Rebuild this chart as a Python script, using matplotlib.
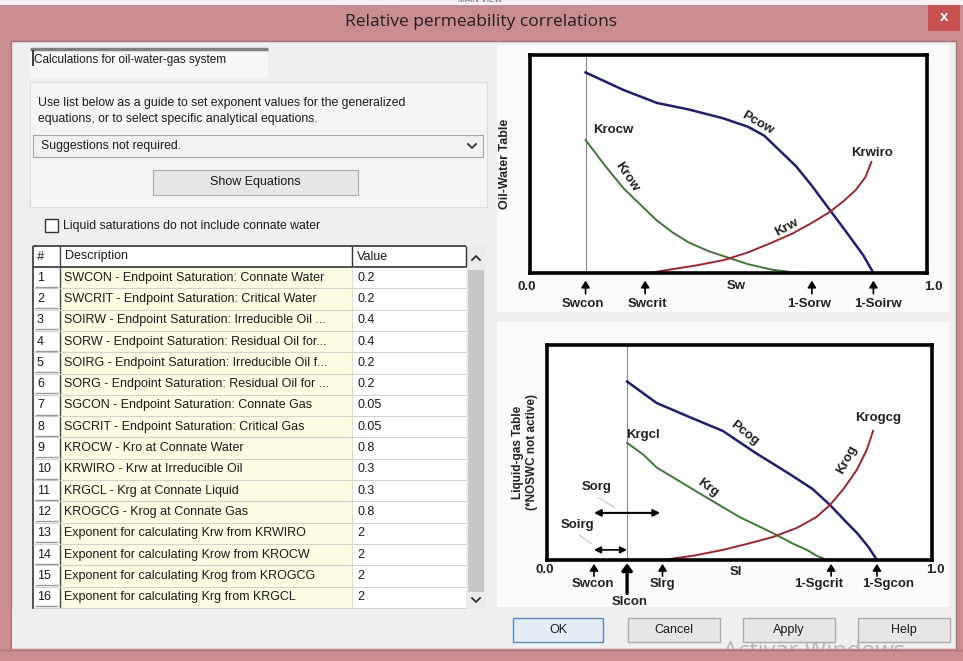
import matplotlib
matplotlib.use("Agg")
import matplotlib.pyplot as plt
from matplotlib.patches import Rectangle

plt.rcParams['font.family'] = ['Liberation Sans', 'DejaVu Sans']

# ---------------- data ----------------
title = "Relative permeability correlations"
row_ids = list(range(1, 17))
row_desc = [
    "SWCON - Endpoint Saturation: Connate Water",
    "SWCRIT - Endpoint Saturation: Critical Water",
    "SOIRW - Endpoint Saturation: Irreducible Oil ...",
    "SORW - Endpoint Saturation: Residual Oil for...",
    "SOIRG - Endpoint Saturation: Irreducible Oil f...",
    "SORG - Endpoint Saturation: Residual Oil for ...",
    "SGCON - Endpoint Saturation: Connate Gas",
    "SGCRIT - Endpoint Saturation: Critical Gas",
    "KROCW - Kro at Connate Water",
    "KRWIRO - Krw at Irreducible Oil",
    "KRGCL - Krg at Connate Liquid",
    "KROGCG - Krog at Connate Gas",
    "Exponent for calculating Krw from KRWIRO",
    "Exponent for calculating Krow from KROCW",
    "Exponent for calculating Krog from KROGCG",
    "Exponent for calculating Krg from KRGCL",
]
row_vals = ["0.2", "0.2", "0.4", "0.4", "0.2", "0.2", "0.05", "0.05",
            "0.8", "0.3", "0.3", "0.8", "2", "2", "2", "2"]

# Oil-water schematic
ow_swcon = 0.14
pcow_x = [0.14, 0.235, 0.32, 0.40, 0.486, 0.55, 0.59, 0.63, 0.67, 0.71, 0.755, 0.80, 0.84, 0.865]
pcow_y = [0.92, 0.84, 0.78, 0.75, 0.71, 0.67, 0.63, 0.56, 0.49, 0.40, 0.29, 0.18, 0.08, 0.0]
krow_x = [0.14, 0.19, 0.235, 0.28, 0.32, 0.36, 0.40, 0.45, 0.50, 0.55, 0.61, 0.66, 0.70]
krow_y = [0.61, 0.49, 0.39, 0.31, 0.24, 0.185, 0.14, 0.10, 0.07, 0.04, 0.015, 0.004, 0.0]
krw_x = [0.30, 0.35, 0.42, 0.49, 0.55, 0.61, 0.66, 0.71, 0.755, 0.79, 0.82, 0.845, 0.86]
krw_y = [0.0, 0.015, 0.035, 0.06, 0.095, 0.14, 0.18, 0.23, 0.28, 0.33, 0.38, 0.44, 0.51]
ow_marks = [0.14, 0.29, 0.71, 0.865]
ow_mark_labels = ["Swcon", "Swcrit", "1-Sorw", "1-Soirw"]

# Liquid-gas schematic
lg_slcon = 0.208
pcog_x = [0.208, 0.285, 0.37, 0.457, 0.54, 0.63, 0.69, 0.735, 0.77, 0.805, 0.835, 0.857]
pcog_y = [0.83, 0.73, 0.665, 0.60, 0.50, 0.40, 0.33, 0.256, 0.19, 0.126, 0.06, 0.0]
krg_x = [0.208, 0.25, 0.285, 0.35, 0.415, 0.50, 0.587, 0.64, 0.675, 0.70, 0.727]
krg_y = [0.545, 0.49, 0.43, 0.36, 0.29, 0.20, 0.125, 0.075, 0.047, 0.02, 0.0]
krog_x = [0.30, 0.38, 0.457, 0.52, 0.587, 0.65, 0.70, 0.735, 0.77, 0.805, 0.83, 0.847]
krog_y = [0.0, 0.02, 0.047, 0.075, 0.107, 0.15, 0.20, 0.256, 0.33, 0.42, 0.51, 0.60]
lg_marks = [0.122, 0.30, 0.738, 0.857]
lg_mark_labels = ["Swcon", "Slrg", "1-Sgcrit", "1-Sgcon"]
buttons = ["OK", "Cancel", "Apply", "Help"]

# label anchor positions (layout)
ow_label_x = [0.134, 0.295, 0.703, 0.877]
lg_label_x = [0.12, 0.30, 0.706, 0.885]

# ---------------- figure ----------------
W, H = 963, 661
fig = plt.figure(figsize=(W / 100, H / 100), dpi=100)
bg = fig.add_axes([0, 0, 1, 1])
bg.set_xlim(0, W)
bg.set_ylim(H, 0)
bg.axis('off')

PINK = "#c98d8f"
CLIENT = "#efefef"


def rect(x0, y0, x1, y1, fc="none", ec="none", lw=0.8, z=1):
    bg.add_patch(Rectangle((x0, y0), x1 - x0, y1 - y0, facecolor=fc,
                           edgecolor=ec, linewidth=lw, zorder=z))


def txt(x, y, s, size=9, ha='left', va='center', color="#1a1a1a", z=5, **kw):
    bg.text(x, y, s, fontsize=size, ha=ha, va=va, color=color, zorder=z, **kw)


def hline(x0, x1, y, color, lw=0.8, z=3):
    bg.plot([x0, x1], [y, y], color=color, lw=lw, zorder=z, solid_capstyle='butt')


def vline(x, y0, y1, color, lw=0.8, z=3):
    bg.plot([x, x], [y0, y1], color=color, lw=lw, zorder=z, solid_capstyle='butt')


# window frame
rect(0, 0, W, H, fc=PINK, z=0)
rect(0, 0, W, 5, fc="#f4f4f4", z=0.5)
txt(480, 1, "MAIN VIEW", size=6, ha='center', va='center', color="#666666", z=0.6)
rect(11, 41, 956, 649, fc=CLIENT, ec="#a87072", lw=1.0, z=1)
txt(481, 22, title, size=12.5, ha='center', color="#202020", family=['Open Sans', 'DejaVu Sans'])
rect(928, 5, 960, 31, fc="#c8514f", z=1)
txt(944, 17, "x", size=11, ha='center', color="white", weight='bold')

# top text box
rect(30, 47, 268, 78, fc="#f7f7f7", z=2)
hline(30, 268, 48.5, "#808080", lw=2.5)
vline(32.5, 50, 66, "#202020", lw=1.2)
txt(34, 60, "Calculations for oil-water-gas system", size=8.5)

# group box
rect(30, 82, 487, 207, fc="#f5f5f5", ec="#dddddd", z=2)
txt(38, 103, "Use list below as a guide to set exponent values for the generalized", size=8.8)
txt(38, 119, "equations, or to select specific analytical equations.", size=8.8)
rect(33, 135, 483, 157, fc="#f0f0f0", ec="#a8a8a8", z=3)
txt(41, 146, "Suggestions not required.", size=8.8)
bg.plot([468, 472, 476], [144, 148, 144], color="#333333", lw=1.3, zorder=5)
rect(153, 170, 358, 195, fc="#e6e6e6", ec="#acacac", z=3)
txt(255.5, 182.5, "Show Equations", size=9, ha='center')

# checkbox
rect(45, 219, 58, 232, fc="white", ec="#333333", lw=1.0, z=3)
txt(63, 226, "Liquid saturations do not include connate water", size=8.8)

# table
TX0, TX1, TX2, TX3, TX4 = 33, 60, 352, 466, 486
HY0, HY1 = 246, 267
RH = 21.3
rect(TX0, HY0, TX4, 610, fc="white", z=2)
rect(TX1, HY1, TX2, 610, fc="#fcfce3", z=2.1)
rect(TX3, HY0, TX4, 610, fc="#ebebeb", z=2.2)
rect(468, 270, 484, 592, fc="#c6c6c6", z=2.3)
bg.plot([472, 476, 480], [260, 256, 260], color="#333333", lw=1.3, zorder=5)
bg.plot([472, 476, 480], [598, 602, 598], color="#333333", lw=1.3, zorder=5)
hline(TX0, TX3, HY0, "#333333", lw=1.2)
hline(TX0, TX3, HY1, "#333333", lw=1.2)
vline(TX0, HY0, 610, "#333333", lw=1.2)
vline(TX1, HY0, 610, "#444444", lw=1.0)
vline(TX2, HY0, HY1, "#333333", lw=1.0)
vline(TX3, HY0, HY1, "#333333", lw=1.0)
vline(TX2, HY1, 610, "#e0e0c8", lw=0.8)
txt(40, 256.5, "#", size=9, ha='center', style='italic')
txt(65, 256.5, "Description", size=9)
txt(357, 256.5, "Value", size=9)
for i, (rid, d, v) in enumerate(zip(row_ids, row_desc, row_vals)):
    y0 = HY1 + i * RH
    yc = y0 + RH / 2
    hline(TX0, TX3, y0 + RH, "#d2d2d2", lw=0.8)
    hline(TX0 + 2, TX1 - 2, y0 + RH - 1.5, "#9a9a9a", lw=1.0)
    txt(37, yc, str(rid), size=9)
    txt(64, yc, d, size=9)
    txt(357, yc, v, size=9)
# cover below table
rect(12, 609, 490, 648, fc=CLIENT, z=4)

# right white panels
rect(497, 45, 949, 312, fc="#fbfbfb", z=2)
rect(497, 322, 949, 607, fc="#fbfbfb", z=2)

# buttons
bx = [(513, 603), (628, 720), (743, 835), (858, 950)]
for (x0, x1), lab in zip(bx, buttons):
    ec = "#5a8ac4" if lab == "OK" else "#acacac"
    fc = "#e5eef7" if lab == "OK" else "#e6e6e6"
    rect(x0, 618, x1, 642, fc=fc, ec=ec, lw=1.0, z=3)
    txt((x0 + x1) / 2, 630, lab, size=9, ha='center')

# watermark + bottom border
txt(723, 640, "Activar Windows", size=17, va='top', color="#b8b8b8", z=2.5,
    family=['Open Sans', 'DejaVu Sans'])
rect(0, 649, W, H, fc=PINK, z=6)
hline(0, W, 649.5, "#b07375", lw=1.0, z=6.5)

# ---------------- chart helpers ----------------
NAVY = "#1e1e78"
GREEN = "#3a7a32"
RED = "#a82228"
LBL = dict(fontsize=9.5, color="#222222", weight='bold')


def make_ax(x0, y0, x1, y1):
    ax = fig.add_axes([x0 / W, 1 - y1 / H, (x1 - x0) / W, (y1 - y0) / H])
    ax.set_xlim(0, 1)
    ax.set_ylim(0, 1)
    ax.set_xticks([])
    ax.set_yticks([])
    ax.set_facecolor("white")
    for s in ax.spines.values():
        s.set_linewidth(2.6)
        s.set_color("black")
    return ax


def up_arrow(ax, x, y0, y1, lw=1.2, hw=0.25):
    ax.annotate("", xy=(x, y1), xytext=(x, y0), xycoords='data',
                annotation_clip=False,
                arrowprops=dict(arrowstyle="-|>,head_width=%g,head_length=0.4" % hw,
                                color="black", lw=lw, shrinkA=0, shrinkB=0))


# ---- top chart: oil-water ----
ax1 = make_ax(530, 55, 927, 273)
ax1.axvline(ow_swcon, color="#888888", lw=0.8)
ax1.plot(pcow_x, pcow_y, color=NAVY, lw=1.8)
ax1.plot(krow_x, krow_y, color=GREEN, lw=1.4)
ax1.plot(krw_x, krw_y, color=RED, lw=1.4)
ax1.text(0.572, 0.69, "Pcow", rotation=-30, ha='center', va='center', **LBL)
ax1.text(0.244, 0.44, "Krow", rotation=-56, ha='center', va='center', **LBL)
ax1.text(0.647, 0.21, "Krw", rotation=28, ha='center', va='center', **LBL)
ax1.text(0.21, 0.656, "Krocw", ha='center', va='center', **LBL)
ax1.text(0.861, 0.55, "Krwiro", ha='center', va='center', **LBL)
ax1.text(-0.008, -0.064, "0.0", ha='center', va='center', clip_on=False, **LBL)
ax1.text(1.015, -0.064, "1.0", ha='center', va='center', clip_on=False, **LBL)
ax1.text(0.52, -0.058, "Sw", ha='center', va='center', clip_on=False, **LBL)
for xm, xl, lab in zip(ow_marks, ow_label_x, ow_mark_labels):
    up_arrow(ax1, xm, -0.095, -0.035)
    ax1.text(xl, -0.14, lab, ha='center', va='center', clip_on=False, **LBL)
ax1.text(-0.063, 0.5, "Oil-Water Table", rotation=90, ha='center', va='center',
         transform=ax1.transAxes, fontsize=9, color="#222222", weight='bold')

# ---- bottom chart: liquid-gas ----
ax2 = make_ax(547, 345, 932, 560)
ax2.axvline(lg_slcon, color="#888888", lw=0.8)
ax2.plot(pcog_x, pcog_y, color=NAVY, lw=1.8)
ax2.plot(krg_x, krg_y, color=GREEN, lw=1.4)
ax2.plot(krog_x, krog_y, color=RED, lw=1.4)
ax2.text(0.514, 0.59, "Pcog", rotation=-38, ha='center', va='center', **LBL)
ax2.text(0.25, 0.58, "Krgcl", ha='center', va='center', **LBL)
ax2.text(0.418, 0.335, "Krg", rotation=-36, ha='center', va='center', **LBL)
ax2.text(0.86, 0.66, "Krogcg", ha='center', va='center', **LBL)
ax2.text(0.779, 0.465, "Krog", rotation=62, ha='center', va='center', **LBL)
ax2.text(0.13, 0.34, "Sorg", ha='center', va='center', **LBL)
ax2.text(0.08, 0.163, "Soirg", ha='center', va='center', **LBL)
ax2.plot([0.135, 0.175], [0.29, 0.245], color="#bbbbbb", lw=0.7)
ax2.plot([0.085, 0.115], [0.115, 0.075], color="#bbbbbb", lw=0.7)
ax2.annotate("", xy=(0.294, 0.219), xytext=(0.122, 0.219),
             arrowprops=dict(arrowstyle="<|-|>,head_width=0.2,head_length=0.4",
                             color="black", lw=1.5, shrinkA=0, shrinkB=0))
ax2.annotate("", xy=(0.208, 0.047), xytext=(0.122, 0.047),
             arrowprops=dict(arrowstyle="<|-|>,head_width=0.2,head_length=0.4",
                             color="black", lw=1.2, shrinkA=0, shrinkB=0))
ax2.text(-0.005, -0.047, "0.0", ha='center', va='center', clip_on=False, **LBL)
ax2.text(1.008, -0.047, "1.0", ha='center', va='center', clip_on=False, **LBL)
ax2.text(0.49, -0.056, "Sl", ha='center', va='center', clip_on=False, **LBL)
for xm, xl, lab in zip(lg_marks, lg_label_x, lg_mark_labels):
    up_arrow(ax2, xm, -0.075, -0.018)
    ax2.text(xl, -0.112, lab, ha='center', va='center', clip_on=False, **LBL)
up_arrow(ax2, lg_slcon, -0.155, -0.015, lw=2.4, hw=0.3)
ax2.text(lg_slcon + 0.008, -0.197, "Slcon", ha='center', va='center', clip_on=False, **LBL)
ax2.text(-0.075, 0.5, "Liquid-gas Table", rotation=90, ha='center', va='center',
         transform=ax2.transAxes, fontsize=8.5, color="#222222", weight='bold')
ax2.text(-0.04, 0.5, "(*NOSWC not active)", rotation=90, ha='center', va='center',
         transform=ax2.transAxes, fontsize=8.5, color="#222222", weight='bold')

fig.savefig("out.png", dpi=100)
